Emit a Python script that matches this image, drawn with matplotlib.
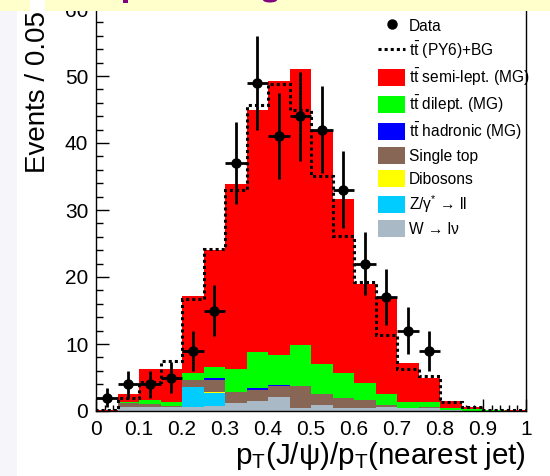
import numpy as np
import matplotlib
matplotlib.use("Agg")
import matplotlib.pyplot as plt
from matplotlib.patches import Patch, Rectangle, Ellipse
from matplotlib.lines import Line2D
from matplotlib.ticker import MultipleLocator, FuncFormatter

plt.rcParams['font.family'] = ['Liberation Sans', 'DejaVu Sans']
plt.rcParams['mathtext.fontset'] = 'custom'
plt.rcParams['mathtext.rm'] = 'Liberation Sans'
plt.rcParams['mathtext.it'] = 'Liberation Sans:italic'
plt.rcParams['mathtext.bf'] = 'Liberation Sans:bold'
plt.rcParams['mathtext.sf'] = 'Liberation Sans'

# ---------------- data ----------------
bin_edges = np.linspace(0.0, 1.0, 21)

w_lnu     = [0.0, 0.65, 0.65, 0.65, 0.65, 0.75, 1.15, 1.5, 2.05, 0.4, 0.9, 0.4, 0.4, 0.6, 0.4, 0.5, 0.1, 0.05, 0.0, 0.0]
z_ll      = [0.0, 0.0, 0.0, 0.0, 2.95, 2.0, 0.0, 0.0, 0.0, 0.0, 0.0, 0.0, 0.0, 0.0, 0.0, 0.0, 0.0, 0.0, 0.0, 0.0]
dibosons  = [0.0, 0.0, 0.0, 0.0, 0.0, 0.15, 0.0, 0.0, 0.0, 0.0, 0.0, 0.0, 0.0, 0.0, 0.0, 0.0, 0.0, 0.0, 0.0, 0.0]
single_top= [0.0, 0.48, 0.34, 0.05, 1.0, 1.8, 1.75, 1.7, 1.75, 3.4, 1.6, 1.5, 1.24, 0.3, 0.1, 0.05, 0.0, 0.0, 0.0, 0.0]
tt_hadr   = [0.0, 0.0, 0.0, 0.0, 0.0, 0.2, 0.0, 0.2, 0.05, 0.0, 0.0, 0.0, 0.0, 0.0, 0.0, 0.0, 0.0, 0.0, 0.0, 0.0]
tt_dilep  = [0.05, 0.27, 0.64, 0.7, 1.0, 1.7, 3.3, 5.45, 4.5, 6.05, 4.5, 3.7, 2.56, 1.7, 0.9, 0.85, 0.3, 0.2, 0.1, 0.05]
tt_semi   = [0.15, 1.1, 4.57, 4.9, 11.5, 17.4, 27.7, 36.05, 40.84, 41.25, 34.9, 26.0, 14.8, 14.4, 5.7, 3.5, 1.1, 0.4, 0.1, 0.1]

py6_bg    = [0.15, 2.0, 4.4, 7.4, 16.7, 24.2, 33.0, 45.6, 48.8, 44.9, 35.1, 26.1, 19.2, 11.3, 6.3, 5.2, 1.3, 0.65, 0.2, 0.15]

data_counts = [2, 4, 4, 5, 9, 15, 37, 49, 41, 44, 42, 33, 22, 17, 12, 9]
data_errors = [1.41, 2.0, 2.0, 2.24, 3.0, 3.87, 6.08, 7.0, 6.4, 6.63, 6.48, 5.74, 4.69, 4.12, 3.46, 3.0]

layers = [
    (w_lnu,      '#aab9c6', 'W → lν'),
    (z_ll,       '#00ccff', r'Z/γ$^{*}$ → ll'),
    (dibosons,   '#ffff00', 'Dibosons'),
    (single_top, '#876656', 'Single top'),
    (tt_hadr,    '#0000ff', r't$\bar{\rm t}$ hadronic (MG)'),
    (tt_dilep,   '#00ff00', r't$\bar{\rm t}$ dilept. (MG)'),
    (tt_semi,    '#ff0000', r't$\bar{\rm t}$ semi-lept. (MG)'),
]

# ---------------- figure ----------------
W, H = 550, 476
fig = plt.figure(figsize=(W / 100, H / 100), dpi=100)
fig.patch.set_facecolor('white')
fig.patches.append(Rectangle((0, 0), 17 / W, 1, transform=fig.transFigure,
                             facecolor='#f5f5fa', edgecolor='none', zorder=-5))

ymax = 61.0
px_per_unit = 6.7
ax = fig.add_axes([96 / W, 65 / H, 430 / W, ymax * px_per_unit / H])
ax.set_axisbelow(True)

bottom = np.zeros(len(bin_edges) - 1)
for vals, col, lab in layers:
    v = np.asarray(vals, dtype=float)
    ax.stairs(bottom + v, bin_edges, baseline=bottom.copy(), fill=True,
              facecolor=col, edgecolor='none', linewidth=0, zorder=1)
    bottom = bottom + v

ax.stairs(py6_bg, bin_edges, baseline=0, fill=False, color='black',
          linewidth=2.2, linestyle=(0, (1, 1)), zorder=3)

centers = 0.5 * (bin_edges[:-1] + bin_edges[1:])
ax.errorbar(centers[:len(data_counts)], data_counts, yerr=data_errors, xerr=0.025,
            fmt='o', color='black', ms=6.5, elinewidth=2.0, capsize=0, zorder=5)

ax.set_xlim(0, 1)
ax.set_ylim(0, ymax)
ax.xaxis.set_major_locator(MultipleLocator(0.1))
ax.xaxis.set_minor_locator(MultipleLocator(0.02))
ax.yaxis.set_major_locator(MultipleLocator(10))
ax.yaxis.set_minor_locator(MultipleLocator(2))
ax.xaxis.set_major_formatter(FuncFormatter(lambda v, p: f'{v:g}'))
ax.yaxis.set_major_formatter(FuncFormatter(lambda v, p: f'{v:g}'))

ax.tick_params(axis='both', which='both', direction='in', top=False, right=False,
               labelsize=15, width=1.0, colors='black')
ax.tick_params(axis='x', which='major', length=8.6, pad=6.5)
ax.tick_params(axis='x', which='minor', length=4.3)
ax.tick_params(axis='y', which='major', length=9.4, pad=5.5)
ax.tick_params(axis='y', which='minor', length=5.0)
for s in ax.spines.values():
    s.set_linewidth(1.0)

ax.set_xlabel(r'p$_{\rm T}$(J/ψ)/p$_{\rm T}$(nearest jet)', fontsize=21.3, loc='right')
ax.xaxis.set_label_coords(1.0, -0.072)
ax.set_ylabel('Events / 0.05', fontsize=20, loc='top')
ax.yaxis.set_label_coords(-0.105, 0.978)

# legend
handles = [Line2D([], [], marker='o', ls='none', color='black', ms=6.5),
           Line2D([], [], ls=(0, (1, 1)), color='black', lw=2.2)]
labels = ['Data', r't$\bar{\rm t}$ (PY6)+BG']
for vals, col, lab in reversed(layers):
    handles.append(Patch(facecolor=col, edgecolor='none'))
    labels.append(lab)
fs = 11.2
fpx = fs * 100 / 72
ax.legend(handles, labels, loc='upper left', bbox_to_anchor=(378 / W, 1 - 17 / H),
          bbox_transform=fig.transFigure, frameon=False, borderpad=0, borderaxespad=0,
          fontsize=fs, handlelength=27 / fpx, handleheight=20 / fpx,
          labelspacing=5.9 / fpx, handletextpad=4 / fpx)

# clipped banner at the top (only the lower rim of its purple title shows)
fig.patches.append(Rectangle((45 / W, 1 - 11 / H), 1, 11 / H, transform=fig.transFigure,
                             facecolor='#ffffcc', edgecolor='none', zorder=10))
fig.patches.append(Rectangle((0, 1 - 11 / H), 30 / W, 11 / H, transform=fig.transFigure,
                             facecolor='#ffffcc', edgecolor='none', zorder=10))
fig.patches.append(Rectangle((123 / W, 1 - 2.5 / H), 5 / W, 2.5 / H, transform=fig.transFigure,
                             facecolor='#800080', edgecolor='none', zorder=11))
fig.patches.append(Ellipse((270 / W, 1), 14 / W, 5 / H, transform=fig.transFigure,
                           facecolor='#800080', edgecolor='none', zorder=11))

fig.savefig('out.png', dpi=100)
